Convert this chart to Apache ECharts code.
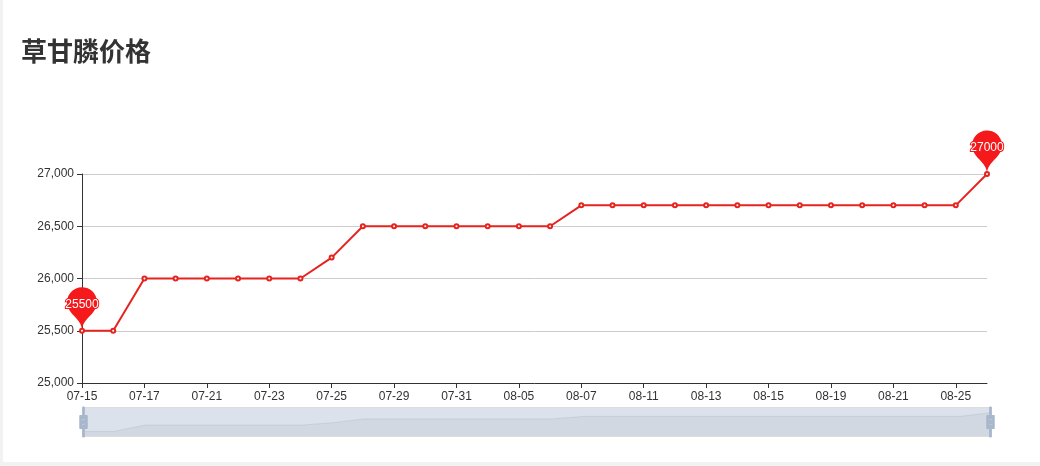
<!DOCTYPE html>
<html>
<head>
<meta charset="utf-8">
<script src="https://cdn.jsdelivr.net/npm/echarts@6/dist/echarts.min.js"></script>
<style>
html,body{margin:0;padding:0;background:#f2f2f2;width:1040px;height:466px;overflow:hidden;}
#chart{position:absolute;left:3px;top:0;width:1037px;height:462px;background:#fff;}
</style>
</head>
<body>
<div id="chart"></div>
<script>
const titleText = '草甘膦价格';
const dates = ['07-15','07-16','07-17','07-18','07-21','07-22','07-23','07-24','07-25','07-28',
               '07-29','07-30','07-31','08-04','08-05','08-06','08-07','08-08','08-11','08-12',
               '08-13','08-14','08-15','08-18','08-19','08-20','08-21','08-22','08-25','08-26'];
const prices = [25500,25500,26000,26000,26000,26000,26000,26000,26200,26500,
                26500,26500,26500,26500,26500,26500,26700,26700,26700,26700,
                26700,26700,26700,26700,26700,26700,26700,26700,26700,27000];
const yMin = 25000, yMax = 27000, yStep = 500;

const chart = echarts.init(document.getElementById('chart'));
chart.setOption({
  animation: false,
  title: {
    text: titleText, left: 13, top: 33,
    textStyle: {fontSize: 26, fontWeight: 'bold', color: '#333', fontFamily: '"Noto Sans CJK SC", sans-serif'}
  },
  grid: {left: 79, right: 53, top: 174, bottom: 79},
  xAxis: {
    type: 'category', data: dates, boundaryGap: false,
    axisLine: {lineStyle: {color: '#333'}},
    axisLabel: {interval: 1, color: '#333', fontSize: 12},
    axisTick: {interval: 1}
  },
  yAxis: {
    type: 'value', min: yMin, max: yMax, interval: yStep,
    axisLine: {show: true, lineStyle: {color: '#333'}},
    axisTick: {show: true},
    axisLabel: {color: '#333', fontSize: 12},
    splitLine: {lineStyle: {color: '#ccc'}}
  },
  dataZoom: [{
    type: 'slider', start: 0, end: 100, left: 77, right: 51, bottom: 25, height: 30,
    showDetail: false, brushSelect: false, moveHandleSize: 0,
    backgroundColor: 'rgba(47,69,84,0)', borderColor: '#ddd',
    fillerColor: 'rgba(167,183,204,0.4)',
    handleIcon: 'M8.2,13.6V3.9H6.3v9.7H3.1v14.9h3.3v9.7h1.8v-9.7h3.3V13.6H8.2z M9.7,24.4H4.8v-1.4h4.9V24.4z M9.7,19.1H4.8v-1.4h4.9V19.1z',
    handleSize: '100%',
    handleStyle: {color: '#a7b7cc', borderColor: '#a7b7cc'},
    dataBackground: {
      lineStyle: {color: '#2f4554', width: 0.5, opacity: 0.3},
      areaStyle: {color: 'rgba(47,69,84,0.3)', opacity: 0.3}
    },
    selectedDataBackground: {
      lineStyle: {color: '#2f4554', width: 0.5, opacity: 0.3},
      areaStyle: {color: 'rgba(47,69,84,0.3)', opacity: 0.3}
    }
  }],
  series: [{
    type: 'line', data: prices,
    symbol: 'emptyCircle', symbolSize: 4,
    itemStyle: {color: '#e52420'},
    lineStyle: {color: '#e52420', width: 2},
    markPoint: {
      symbolSize: 50,
      itemStyle: {color: '#f5191b'},
      label: {fontSize: 12, color: '#fff', overflow: 'none', width: 60,
              textBorderColor: '#f5191b', textBorderWidth: 2},
      data: [{type: 'max'}, {type: 'min'}]
    }
  }]
});
</script>
</body>
</html>
